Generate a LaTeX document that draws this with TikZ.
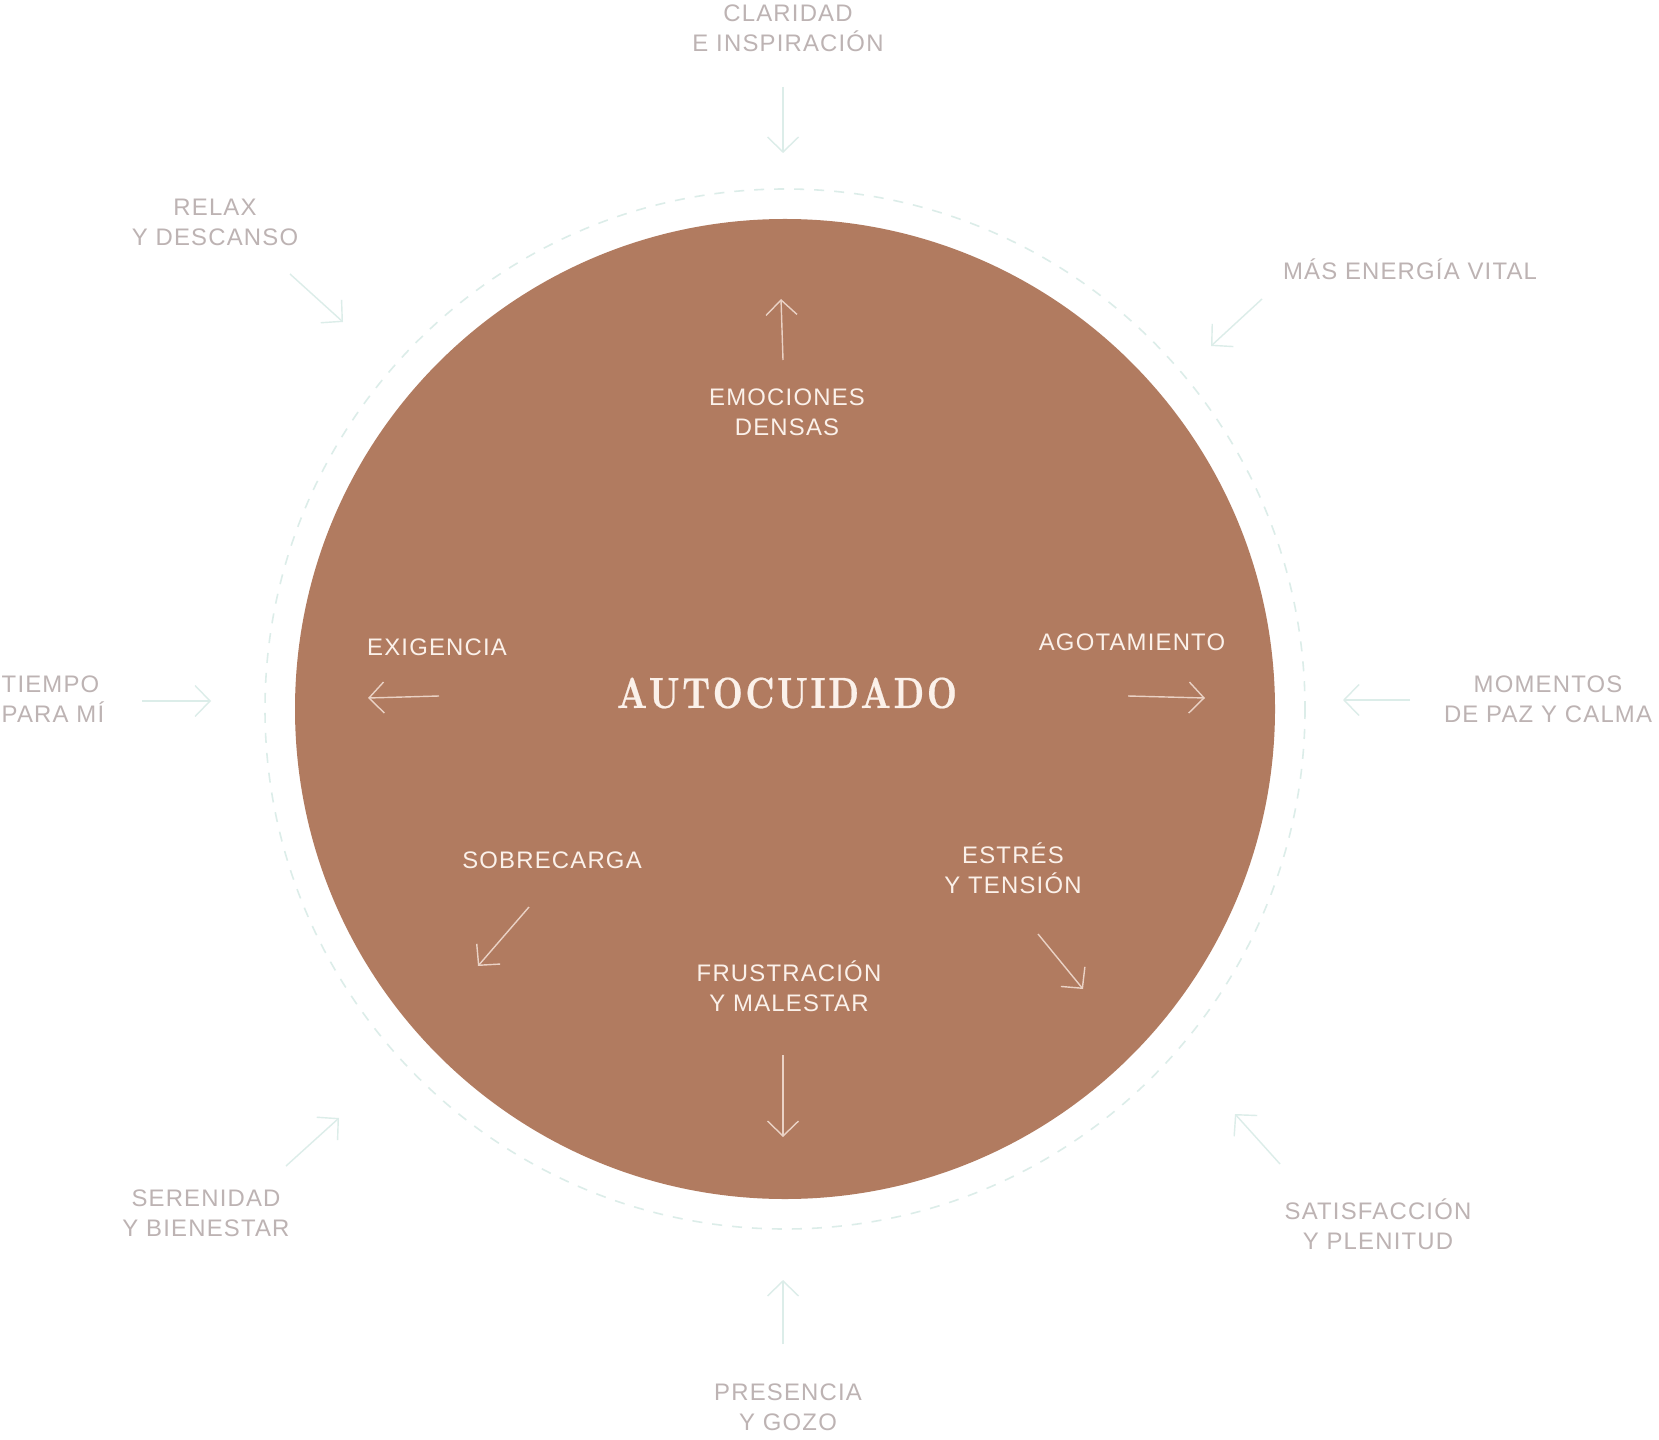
\documentclass[tikz,border=0pt]{standalone}
\usepackage{fontspec}
\usepackage{tikz}
\usetikzlibrary{arrows.meta}

\newfontfamily\labelfont[LetterSpace=5]{Liberation Sans}
\newfontfamily\titlefont[LetterSpace=6,FakeStretch=0.8,FakeBold=0.5]{lmroman10-bold.otf}

\definecolor{clay}{HTML}{B17B60}
\definecolor{cream}{HTML}{FBF1EA}
\definecolor{mist}{HTML}{BDB3B3}
\definecolor{mint}{HTML}{DCEDE9}
\definecolor{blush}{HTML}{EAD2C5}

\tikzset{
  outerlabel/.style={font=\labelfont\fontsize{6.8}{8.5}\selectfont, text=mist, align=center, inner sep=0pt},
  innerlabel/.style={font=\labelfont\fontsize{6.8}{8.5}\selectfont, text=cream, align=center, inner sep=0pt},
  outarrow/.style={draw=mint, line width=0.4pt, -{Straight Barb[length=1.5mm, width=3.1mm]}},
  inarrow/.style={draw=blush, line width=0.4pt, -{Straight Barb[length=1.5mm, width=3.1mm]}}
}

\begin{document}
\begin{tikzpicture}[x=0.1mm, y=-0.1mm]
  \useasboundingbox (0,0) rectangle (1659,1440);
  \fill[white] (0,0) rectangle (1659,1440);

  % rings
  \draw[mint, line width=0.45pt, dash pattern=on 1mm off 1mm] (785,709) circle[radius=520];
  \fill[clay] (785,709) circle[radius=490];
  \node[font=\titlefont\fontsize{12.4}{14}\selectfont, text=cream, inner sep=0pt] (title) at (787,693) {AUTOCUIDADO};

  % outer labels
  \node[outerlabel] (claridad) at (788,28) {CLARIDAD\\E INSPIRACIÓN};
  \node[outerlabel] (relax) at (215,222) {RELAX\\Y DESCANSO};
  \node[outerlabel] (energia) at (1410,269) {MÁS ENERGÍA VITAL};
  \node[outerlabel] (momentos) at (1548,699) {MOMENTOS\\DE PAZ Y CALMA};
  \node[outerlabel, align=left, anchor=west] (tiempo) at (1,699) {TIEMPO\\PARA MÍ};
  \node[outerlabel] (serenidad) at (206,1213) {SERENIDAD\\Y BIENESTAR};
  \node[outerlabel] (satisfaccion) at (1378,1224) {SATISFACCIÓN\\Y PLENITUD};
  \node[outerlabel] (presencia) at (788,1407) {PRESENCIA\\Y GOZO};

  % inner labels
  \node[innerlabel] (emociones) at (787,412) {EMOCIONES\\DENSAS};
  \node[innerlabel] (exigencia) at (437,647) {EXIGENCIA};
  \node[innerlabel] (agotamiento) at (1132,642) {AGOTAMIENTO};
  \node[innerlabel] (sobrecarga) at (552,860) {SOBRECARGA};
  \node[innerlabel] (estres) at (1013,868) {ESTRÉS\\Y TENSIÓN};
  \node[innerlabel] (frustracion) at (789,986) {FRUSTRACIÓN\\Y MALESTAR};

  % arrow ends
  \coordinate (claridad-a) at (783,87);    \coordinate (claridad-b) at (783,153);
  \coordinate (relax-a) at (290,274);      \coordinate (relax-b) at (343,322);
  \coordinate (energia-a) at (1262,299);   \coordinate (energia-b) at (1211,346);
  \coordinate (momentos-a) at (1410,700);  \coordinate (momentos-b) at (1343,700);
  \coordinate (tiempo-a) at (142,701);     \coordinate (tiempo-b) at (211,701);
  \coordinate (serenidad-a) at (286,1166); \coordinate (serenidad-b) at (339,1118);
  \coordinate (satisf-a) at (1280,1164);   \coordinate (satisf-b) at (1235,1114);
  \coordinate (presencia-a) at (783,1344); \coordinate (presencia-b) at (783,1280);

  \coordinate (emociones-a) at (783,360);  \coordinate (emociones-b) at (781,299);
  \coordinate (exigencia-a) at (439,696);  \coordinate (exigencia-b) at (368,698);
  \coordinate (agota-a) at (1128,696);     \coordinate (agota-b) at (1205,698);
  \coordinate (sobre-a) at (529,907);      \coordinate (sobre-b) at (478,966);
  \coordinate (estres-a) at (1038,934);    \coordinate (estres-b) at (1083,989);
  \coordinate (frustra-a) at (783,1055);   \coordinate (frustra-b) at (783,1137);

  % arrows pointing in
  \draw[outarrow] (claridad-a) -- (claridad-b);
  \draw[outarrow] (relax-a) -- (relax-b);
  \draw[outarrow] (energia-a) -- (energia-b);
  \draw[outarrow] (momentos-a) -- (momentos-b);
  \draw[outarrow] (tiempo-a) -- (tiempo-b);
  \draw[outarrow] (serenidad-a) -- (serenidad-b);
  \draw[outarrow] (satisf-a) -- (satisf-b);
  \draw[outarrow] (presencia-a) -- (presencia-b);

  % arrows pointing out
  \draw[inarrow] (emociones-a) -- (emociones-b);
  \draw[inarrow] (exigencia-a) -- (exigencia-b);
  \draw[inarrow] (agota-a) -- (agota-b);
  \draw[inarrow] (sobre-a) -- (sobre-b);
  \draw[inarrow] (estres-a) -- (estres-b);
  \draw[inarrow] (frustra-a) -- (frustra-b);
\end{tikzpicture}
\end{document}
